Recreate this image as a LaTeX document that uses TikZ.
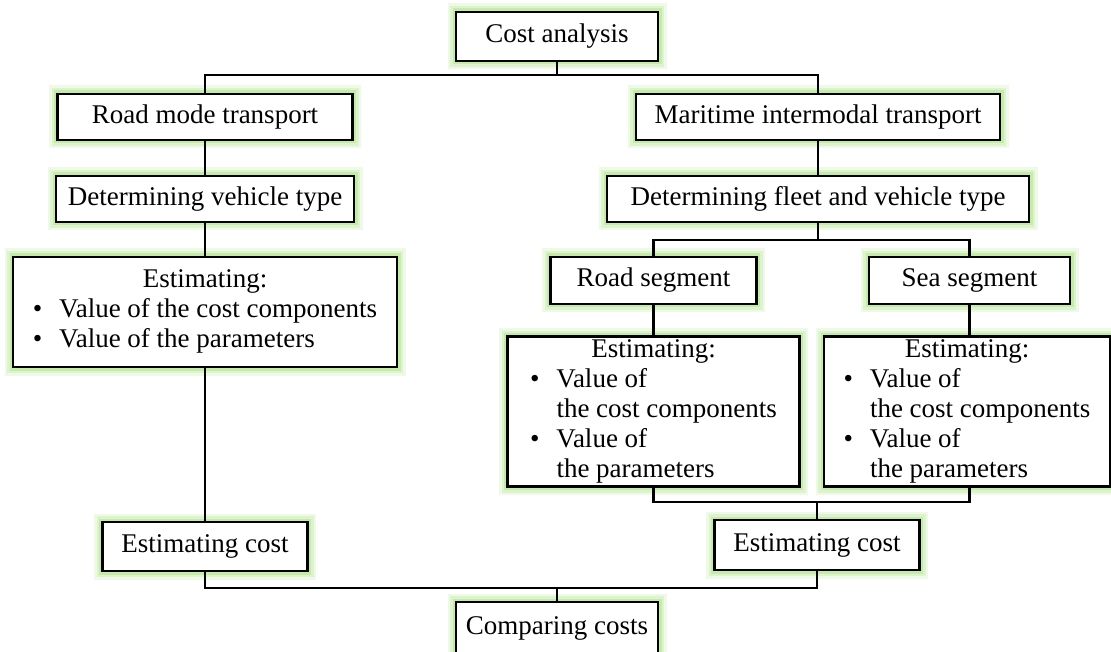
\documentclass[tikz,border=0pt]{standalone}
\usepackage{fontspec}
\setmainfont{Liberation Serif}
\definecolor{glowfar}{HTML}{EEF9E7}
\definecolor{glowout}{HTML}{DDF3CD}
\definecolor{glowin}{HTML}{C4ECA6}
\begin{document}
\begin{tikzpicture}[x=1pt, y=-1pt,
    font=\fontsize{27}{30}\selectfont,
    box/.style={draw, line width=2.2pt, fill=white, inner sep=0pt,
        preaction={draw=glowfar, line width=17pt},
        preaction={draw=glowout, line width=12pt},
        preaction={draw=glowin, line width=7pt}},
    link/.style={line width=2.8pt}]
    \useasboundingbox (0,0) rectangle (1111,652);

    \node[box, minimum width=202pt, minimum height=49pt] (cost) at (557, 36.5) {Cost analysis};
    \node[box, minimum width=295pt, minimum height=46pt] (road) at (205, 117) {Road mode transport};
    \node[box, minimum width=364pt, minimum height=46pt] (mari) at (818, 117) {Maritime intermodal transport};
    \node[box, minimum width=298pt, minimum height=46pt] (vehicle) at (205, 199) {Determining vehicle type};
    \node[box, minimum width=422pt, minimum height=46pt] (fleet) at (818, 199) {Determining fleet and vehicle type};
    \node[box, minimum width=384pt, minimum height=110pt] (estRoadMode) at (205, 312) {%
        \begin{tabular}{@{}c@{\hspace{17pt}}l@{}}
            \multicolumn{2}{c}{Estimating:}\\
            \textbullet & Value of the cost components\\
            \textbullet & Value of the parameters
        \end{tabular}};
    \node[box, minimum width=206pt, minimum height=47pt] (roadseg) at (653.5, 280.5) {Road segment};
    \node[box, minimum width=201pt, minimum height=47pt] (seaseg) at (969.5, 280.5) {Sea segment};
    \node[box, minimum width=292pt, minimum height=149pt] (estRoadSeg) at (653.5, 411.5) {%
        \begin{tabular}{@{}c@{\hspace{17pt}}l@{}}
            \multicolumn{2}{c}{Estimating:}\\
            \textbullet & Value of\\
            & the cost components\\
            \textbullet & Value of\\
            & the parameters
        \end{tabular}};
    \node[box, minimum width=286pt, minimum height=149pt] (estSeaSeg) at (967, 411.5) {%
        \begin{tabular}{@{}c@{\hspace{17pt}}l@{}}
            \multicolumn{2}{c}{Estimating:}\\
            \textbullet & Value of\\
            & the cost components\\
            \textbullet & Value of\\
            & the parameters
        \end{tabular}};
    \node[box, minimum width=205pt, minimum height=49pt] (costL) at (205, 546.5) {Estimating cost};
    \node[box, minimum width=205pt, minimum height=50pt] (costR) at (817, 545) {Estimating cost};
    \node[box, minimum width=202pt, minimum height=52pt] (compare) at (557, 628) {Comparing costs};

    \coordinate (split) at (557, 75);
    \coordinate (fork) at (818, 240);
    \coordinate (merge) at (817, 502);
    \coordinate (join) at (557, 588);

    \draw[link] (cost) -- (split);
    \draw[link] (road.north) |- (split) -| (mari.north);
    \draw[link] (road) -- (vehicle) -- (estRoadMode) -- (costL);
    \draw[link] (mari) -- (fleet) -- (fork);
    \draw[link] (roadseg.north) |- (fork) -| (seaseg.north);
    \draw[link] (roadseg) -- (estRoadSeg);
    \draw[link] (seaseg.south) -- (seaseg.south |- estSeaSeg.north);
    \draw[link] (estRoadSeg.south) |- (merge);
    \draw[link] (merge) -| (seaseg.south |- estSeaSeg.south);
    \draw[link] (merge) -- (costR);
    \draw[link] (costL.south) |- (join) -| (costR.south);
    \draw[link] (join) -- (compare);
\end{tikzpicture}
\end{document}
